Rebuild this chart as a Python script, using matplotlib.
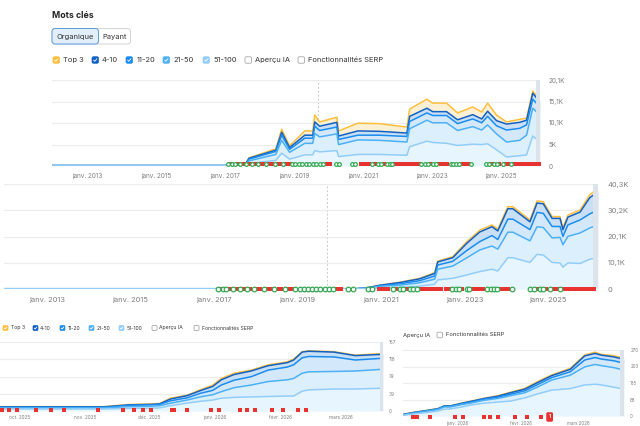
import numpy as np
import pandas as pd
import matplotlib
matplotlib.use("Agg")
import matplotlib.pyplot as plt
from matplotlib.patches import FancyBboxPatch
from matplotlib.transforms import blended_transform_factory

plt.rcParams["font.family"] = ["Inter", "DejaVu Sans"]

W, H = 640, 426

SERIES = ["Top 3", "4-10", "11-20", "21-50", "51-100"]
COLORS = ["#ffbf3c", "#1160c4", "#1a8cef", "#4bb0f6", "#92cdfa"]
FILLS = ["#fcf0d4", "#c8dff6", "#d3e9fb", "#dbeffd", "#e7f5fe"]
TXT = "#333333"
TICK = "#7d7d7d"

# ---- chart 1 : history since 2012 (K keywords, cumulative lines) ----
c1_years = [2011.99, 2017.58, 2017.70, 2018.48, 2018.65, 2018.88, 2019.32, 2019.55,
            2019.61, 2019.75, 2020.25, 2020.30, 2020.86, 2021.49, 2022.28, 2022.36,
            2022.86, 2023.03, 2023.43, 2023.75, 2024.19, 2024.45, 2024.62, 2024.88,
            2025.17, 2025.55, 2025.75, 2025.93, 2026.14]
c1_top3 = [0.1, 0.1, 1.9, 4.0, 8.6, 4.7, 8.2, 8.2, 11.9, 10.3, 11.4, 8.2, 10.0, 9.9, 9.1,
           13.3, 15.6, 14.7, 14.7, 12.4, 13.8, 12.6, 14.7, 11.9, 10.3, 10.9, 11.2, 17.5, 15.4]
c1_4_10 = [0.1, 0.1, 1.8, 3.7, 7.9, 4.3, 7.2, 7.2, 10.3, 9.3, 10.2, 7.0, 8.2, 8.1, 7.7,
           11.6, 13.5, 12.7, 12.7, 10.8, 12.0, 11.0, 12.8, 10.6, 9.8, 10.2, 10.7, 17.0, 15.0]
c1_11_20 = [0.1, 0.1, 1.6, 3.4, 7.2, 3.9, 6.5, 6.5, 9.3, 8.3, 9.1, 6.2, 7.2, 7.2, 6.9,
            10.4, 12.4, 11.8, 11.8, 9.9, 11.0, 10.1, 11.6, 9.4, 8.4, 8.8, 9.6, 15.6, 13.8]
c1_21_50 = [0.1, 0.1, 1.2, 2.7, 6.0, 3.2, 5.3, 5.3, 7.6, 6.8, 7.5, 5.0, 6.1, 6.0, 5.6,
            8.7, 10.7, 10.1, 10.1, 8.3, 9.2, 8.4, 9.6, 7.5, 5.6, 6.0, 7.2, 13.5, 11.9]
c1_51_100 = [0.1, 0.1, 0.6, 1.3, 3.0, 1.6, 2.6, 2.6, 3.6, 3.3, 3.6, 2.2, 2.7, 2.7, 2.5,
             4.5, 5.8, 5.5, 5.3, 4.8, 5.1, 5.0, 5.2, 3.8, 2.1, 2.4, 2.6, 7.0, 5.6]

# ---- chart 2 : second domain history (K keywords) ----
c2_years = [2011.97, 2020.40, 2020.70, 2020.98, 2021.46, 2021.93, 2022.29, 2022.36,
            2022.72, 2023.06, 2023.37, 2023.66, 2023.80, 2024.04, 2024.16, 2024.57,
            2024.74, 2024.89, 2025.10, 2025.29, 2025.36, 2025.48, 2025.77, 2026.00, 2026.20]
c2_top3 = [0.1, 0.1, 0.6, 1.5, 2.6, 4.1, 6.3, 10.7, 12.4, 18.2, 22.6, 24.6, 23.0, 31.6,
           31.6, 26.5, 33.8, 33.5, 27.8, 27.8, 23.4, 28.4, 30.3, 36.1, 38.7]
c2_4_10 = [0.1, 0.1, 0.55, 1.45, 2.5, 3.9, 6.0, 10.4, 12.0, 17.6, 21.9, 23.9, 22.3, 30.8,
           30.8, 25.8, 33.0, 32.7, 27.1, 27.1, 22.8, 27.6, 29.5, 35.0, 37.4]
c2_11_20 = [0.1, 0.1, 0.45, 1.25, 2.0, 3.2, 5.0, 9.2, 10.6, 14.8, 18.2, 20.5, 19.0, 26.8,
            26.8, 22.8, 29.4, 29.0, 24.0, 24.0, 20.2, 24.6, 26.5, 28.8, 30.3]
c2_21_50 = [0.1, 0.1, 0.35, 1.0, 1.5, 2.4, 3.8, 7.6, 8.8, 12.0, 15.0, 16.5, 15.3, 21.8,
            21.8, 18.5, 23.9, 23.6, 19.6, 19.8, 17.0, 20.2, 21.5, 23.4, 24.6]
c2_51_100 = [0.1, 0.1, 0.2, 0.5, 0.65, 1.1, 1.8, 3.5, 4.1, 5.4, 6.7, 7.6, 6.9, 12.0,
             12.0, 10.2, 13.3, 13.0, 10.2, 10.0, 8.4, 10.0, 9.8, 11.4, 12.0]

year_ticks = [2013, 2015, 2017, 2019, 2021, 2023, 2025]
year_labels = ["janv. 2013", "janv. 2015", "janv. 2017", "janv. 2019",
               "janv. 2021", "janv. 2023", "janv. 2025"]
c1_ylabels = ["0", "5K", "10,1K", "15,1K", "20,1K"]
c2_ylabels = ["0", "10,1K", "20,1K", "30,2K", "40,3K"]
marker_line_year = 2019.7

google_updates = [2017.10, 2017.22, 2017.30, 2017.45, 2017.62, 2017.80, 2017.95, 2018.20,
                  2018.45, 2018.70, 2018.95, 2019.05, 2019.15, 2019.25, 2019.35, 2019.45,
                  2019.55, 2019.65, 2019.75, 2019.85, 2020.22, 2020.32, 2020.68, 2020.78,
                  2021.28, 2021.45, 2021.52, 2021.70, 2021.78, 2021.86, 2022.70, 2022.80,
                  2022.88, 2023.05, 2023.12, 2023.55, 2023.63, 2023.70, 2023.78, 2024.15,
                  2024.58, 2024.66, 2024.80, 2024.88, 2025.06, 2025.30]
serp_flags = [2017.15, 2017.38, 2017.52, 2017.56, 2017.70, 2017.75, 2017.87, 2018.05,
              2018.10, 2018.28, 2018.32, 2018.36, 2018.55, 2018.60, 2018.78, 2018.82,
              2018.86, 2018.90, 2019.95, 2020.05, 2020.95, 2021.02, 2021.10, 2021.18,
              2021.36, 2021.62, 2021.95, 2022.02, 2022.10, 2022.18, 2022.26, 2022.35,
              2022.45, 2022.55, 2022.62, 2022.95, 2023.20, 2023.28, 2023.36, 2023.44,
              2023.88, 2023.96, 2024.05, 2024.74, 2024.96, 2025.14, 2025.22, 2025.38,
              2025.46, 2025.54, 2025.62, 2025.70, 2025.78, 2025.86, 2025.94, 2026.02,
              2026.10]

# ---- chart 3 : last six months (keywords) ----
c3_dates = ["2025-09-22", "2025-11-10", "2025-11-22", "2025-12-02", "2025-12-06",
            "2025-12-11", "2025-12-19", "2025-12-25", "2025-12-31", "2026-01-04",
            "2026-01-10", "2026-01-18", "2026-01-26", "2026-02-04", "2026-02-07",
            "2026-02-11", "2026-02-14", "2026-02-26", "2026-03-08", "2026-03-21"]
c3_top3 = [10, 10, 15, 16, 17, 29, 36, 48, 59, 74, 86, 93, 105, 112, 118, 135, 137, 135, 127, 131]
c3_4_10 = [9.5, 9.5, 14, 15, 16, 27, 35, 46, 56, 71, 83, 91, 103, 110, 116, 134, 136, 134, 126, 129]
c3_11_20 = [8.5, 8.5, 13, 14, 15, 23, 30, 40, 47, 59, 70, 78, 93, 100, 105, 121, 124, 123, 116, 120]
c3_21_50 = [7, 7, 10, 11, 12, 17.5, 25, 32, 37, 44, 53, 59, 67, 71, 74, 86, 89, 90, 91, 95]
c3_51_100 = [4.5, 4.5, 6, 6.5, 7, 12, 18, 22, 25, 29, 31, 32, 33, 34, 34, 45, 48, 50, 50, 52]
c3_flags = ["2025-09-23", "2025-09-26", "2025-09-30", "2025-10-09", "2025-10-16",
            "2025-10-22", "2025-11-07", "2025-11-19", "2025-11-24", "2025-11-28",
            "2025-12-02", "2025-12-12", "2025-12-13", "2025-12-19", "2025-12-30",
            "2026-01-03", "2026-01-13", "2026-01-16", "2026-01-20", "2026-01-28",
            "2026-02-02", "2026-02-09", "2026-02-13"]
c3_ticks = ["2025-10-01", "2025-11-01", "2025-12-01", "2026-01-01", "2026-02-01", "2026-03-01"]
c3_tick_labels = ["oct. 2025", "nov. 2025", "déc. 2025", "janv. 2026", "févr. 2026", "mars 2026"]
c3_ylabels = ["0", "39", "79", "118", "157"]

# ---- chart 4 : last three months (keywords) ----
c4_dates = ["2025-12-06", "2025-12-11", "2025-12-15", "2025-12-19", "2025-12-23",
            "2025-12-26", "2025-12-29", "2026-01-03", "2026-01-08", "2026-01-14",
            "2026-01-21", "2026-01-27", "2026-02-03", "2026-02-09", "2026-02-16",
            "2026-02-25", "2026-03-04", "2026-03-09", "2026-03-12", "2026-03-18",
            "2026-03-23"]
c4_top3 = [7, 15, 20, 25, 31, 42, 42, 52, 61, 72, 83, 97, 113, 140, 168, 195, 250, 261, 252, 247, 236]
c4_4_10 = [6, 14, 19, 24, 30, 41, 41, 51, 60, 71, 81, 95, 110, 136, 165, 191, 246, 256, 249, 242, 232]
c4_11_20 = [5, 13, 18, 23, 29, 40, 40, 49, 57, 68, 77, 89, 103, 128, 157, 181, 229, 239, 233, 226, 216]
c4_21_50 = [4, 11, 16, 21, 27, 37, 37, 46, 53, 64, 72, 83, 95, 118, 147, 167, 201, 211, 206, 198, 188]
c4_51_100 = [3, 8, 12, 16, 20, 28, 29, 36, 45, 52, 57, 61, 74, 90, 106, 112, 127, 130, 127, 118, 110]
c4_flags = ["2025-12-11", "2025-12-13", "2025-12-19", "2025-12-31", "2026-01-04",
            "2026-01-14", "2026-01-17", "2026-01-21", "2026-01-29", "2026-02-04",
            "2026-02-11"]
c4_flag_count = ("2026-02-15", "1")
c4_ticks = ["2026-01-01", "2026-02-01", "2026-03-01"]
c4_tick_labels = ["janv. 2026", "févr. 2026", "mars 2026"]
c4_ylabels = ["0", "68", "135", "203", "270"]

fig = plt.figure(figsize=(W / 100, H / 100), dpi=100)
fig.patch.set_facecolor("white")

ov = fig.add_axes([0, 0, 1, 1])
ov.set_xlim(0, W)
ov.set_ylim(H, 0)
ov.axis("off")


def px_axes(left, top, right, bottom):
    ax = fig.add_axes([left / W, 1 - bottom / H, (right - left) / W, (bottom - top) / H])
    ax.patch.set_alpha(0)
    return ax


def draw_stack(ax, x, levels):
    for i in range(5):
        lower = levels[i + 1] if i < 4 else np.zeros(len(x))
        ax.fill_between(x, lower, levels[i], color=FILLS[i], lw=0, zorder=1)
    for i in range(5):
        ax.plot(x, levels[i], color=COLORS[i], lw=1.1, zorder=2 + i,
                solid_joinstyle="round")


def style(ax, ymax, ylabels, fs, ypad, xpad):
    ax.set_ylim(0, ymax)
    ax.set_yticks(np.linspace(0, ymax, 5))
    ax.set_yticklabels(ylabels)
    ax.yaxis.tick_right()
    ax.tick_params(axis="y", length=0, pad=ypad, labelsize=fs, labelcolor=TICK)
    ax.tick_params(axis="x", length=0, pad=xpad, labelsize=fs, labelcolor=TICK)
    for s in ax.spines.values():
        s.set_visible(False)
    ax.grid(axis="y", color="#ececec", lw=0.8)
    ax.set_axisbelow(True)


def checkbox(x, y, size, color, checked=True):
    if checked:
        box = FancyBboxPatch((x, y - size / 2), size, size,
                             boxstyle="round,pad=0,rounding_size=%.1f" % (size * 0.22),
                             fc=color, ec=color, lw=0.5)
        ov.add_patch(box)
        ov.plot([x + size * 0.25, x + size * 0.43, x + size * 0.76],
                [y + size * 0.02, y + size * 0.2, y - size * 0.2],
                color="white", lw=0.6, solid_capstyle="round")
    else:
        box = FancyBboxPatch((x, y - size / 2), size, size,
                             boxstyle="round,pad=0,rounding_size=%.1f" % (size * 0.22),
                             fc="white", ec="#a8a8a8", lw=0.6)
        ov.add_patch(box)


def legend_row(items, y, size, fs):
    for bx, tx, label, color in items:
        checkbox(bx, y, size, color, checked=color is not None)
        ov.text(tx, y, label, fontsize=fs, color=TXT, va="center", ha="left")


def draw_events(ax, g_years, f_years, y, size):
    tr = blended_transform_factory(ax.transData, ax.transAxes)
    ax.scatter(f_years, [y] * len(f_years), marker="s", s=size, color="#e8322f",
               transform=tr, clip_on=False, zorder=8, lw=0)
    ax.scatter(g_years, [y] * len(g_years), marker="o", s=size, facecolor="white",
               edgecolor="#34a853", linewidth=0.9, transform=tr, clip_on=False, zorder=9)


# header
ov.text(52, 16, "Mots clés", fontsize=6.3, fontweight="bold", color="#222222", va="center")
ov.add_patch(FancyBboxPatch((52, 28.5), 78.5, 15.5, boxstyle="round,pad=0,rounding_size=3",
                            fc="white", ec="#d4d4d4", lw=0.7))
ov.add_patch(FancyBboxPatch((52, 28.5), 46.5, 15.5, boxstyle="round,pad=0,rounding_size=3",
                            fc="#e2effb", ec="#5b9ce0", lw=0.7))
ov.text(75.3, 36.5, "Organique", fontsize=5.4, color=TXT, ha="center", va="center")
ov.text(114.5, 36.5, "Payant", fontsize=5.4, color=TXT, ha="center", va="center")

legend_row([(53, 63, "Top 3", COLORS[0]), (92, 102, "4-10", COLORS[1]),
            (126, 137, "11-20", COLORS[2]), (163, 173, "21-50", COLORS[3]),
            (203, 213, "51-100", COLORS[4]), (245, 255, "Aperçu IA", None),
            (298, 308, "Fonctionnalités SERP", None)], 60, 6.5, 5.4)

# chart 1
ax1 = px_axes(52, 80, 540, 166)
draw_stack(ax1, c1_years, [np.array(v) for v in (c1_top3, c1_4_10, c1_11_20, c1_21_50, c1_51_100)])
style(ax1, 20.1, c1_ylabels, 4.6, 6, 5)
ax1.set_xlim(c1_years[0], c1_years[-1])
ax1.set_xticks(year_ticks)
ax1.set_xticklabels(year_labels)
ax1.axvline(marker_line_year, color="#c9c9c9", ls=(0, (2, 2)), lw=0.7, zorder=0)
ax1.axvspan(c1_years[-1] - 0.11, c1_years[-1], color="#dde3ea", lw=0, zorder=7)
draw_events(ax1, google_updates, serp_flags, 0.025, 7)

# chart 2
ax2 = px_axes(4, 184, 598, 289)
draw_stack(ax2, c2_years, [np.array(v) for v in (c2_top3, c2_4_10, c2_11_20, c2_21_50, c2_51_100)])
style(ax2, 40.3, c2_ylabels, 5.4, 7, 6)
ax2.set_xlim(c2_years[0], c2_years[-1])
ax2.set_xticks(year_ticks)
ax2.set_xticklabels(year_labels)
ax2.axvline(marker_line_year, color="#c9c9c9", ls=(0, (2, 2)), lw=0.7, zorder=0)
ax2.axvspan(c2_years[-1] - 0.12, c2_years[-1], color="#dde3ea", lw=0, zorder=7)
draw_events(ax2, google_updates, serp_flags, 0.0, 11)

# chart 3 legend
legend_row([(3, 11, "Top 3", COLORS[0]), (33, 40, "4-10", COLORS[1]),
            (60, 68, "11-20", COLORS[2]), (89, 97, "21-50", COLORS[3]),
            (119, 127, "51-100", COLORS[4]), (152, 159, "Aperçu IA", None),
            (194, 202, "Fonctionnalités SERP", None)], 328, 5, 3.7)

# chart 3
ax3 = px_axes(0, 342, 383, 411)
x3 = pd.to_datetime(c3_dates)
draw_stack(ax3, x3, [np.array(v, dtype=float) for v in (c3_top3, c3_4_10, c3_11_20, c3_21_50, c3_51_100)])
style(ax3, 157, c3_ylabels, 3.4, 4, 3)
ax3.set_xlim(x3[0], x3[-1])
ax3.set_xticks(pd.to_datetime(c3_ticks))
ax3.set_xticklabels(c3_tick_labels)
ax3.axvspan(x3[-1] - pd.Timedelta(days=1.5), x3[-1], color="#dde3ea", lw=0, zorder=7)
tr3 = blended_transform_factory(ax3.transData, ax3.transAxes)
ax3.scatter(pd.to_datetime(c3_flags), [0.015] * len(c3_flags), marker="s", s=9,
            color="#e8322f", lw=0, transform=tr3, clip_on=False, zorder=8)

# chart 4 legend
ov.text(403, 335, "Aperçu IA", fontsize=4.2, color=TXT, va="center")
checkbox(437, 335, 5.5, None, checked=False)
ov.text(445.5, 335, "Fonctionnalités SERP", fontsize=4.2, color=TXT, va="center")

# chart 4
ax4 = px_axes(403, 350, 624, 416)
x4 = pd.to_datetime(c4_dates)
draw_stack(ax4, x4, [np.array(v, dtype=float) for v in (c4_top3, c4_4_10, c4_11_20, c4_21_50, c4_51_100)])
style(ax4, 270, c4_ylabels, 3.2, 4.5, 3.5)
ax4.set_xlim(x4[0], x4[-1])
ax4.set_xticks(pd.to_datetime(c4_ticks))
ax4.set_xticklabels(c4_tick_labels)
ax4.axvspan(x4[-1] - pd.Timedelta(days=2), x4[-1], color="#dde3ea", lw=0, zorder=7)
tr4 = blended_transform_factory(ax4.transData, ax4.transAxes)
ax4.scatter(pd.to_datetime(c4_flags), [-0.015] * len(c4_flags), marker="s", s=9,
            color="#e8322f", lw=0, transform=tr4, clip_on=False, zorder=8)
ax4.text(pd.Timestamp(c4_flag_count[0]), -0.015, c4_flag_count[1], transform=tr4,
         fontsize=3.6, color="white", fontweight="bold", ha="center", va="center", zorder=9,
         bbox=dict(boxstyle="round,pad=0.45,rounding_size=0.3", fc="#e8322f", ec="none"),
         clip_on=False)

fig.savefig("out.png", dpi=100, facecolor="white")
